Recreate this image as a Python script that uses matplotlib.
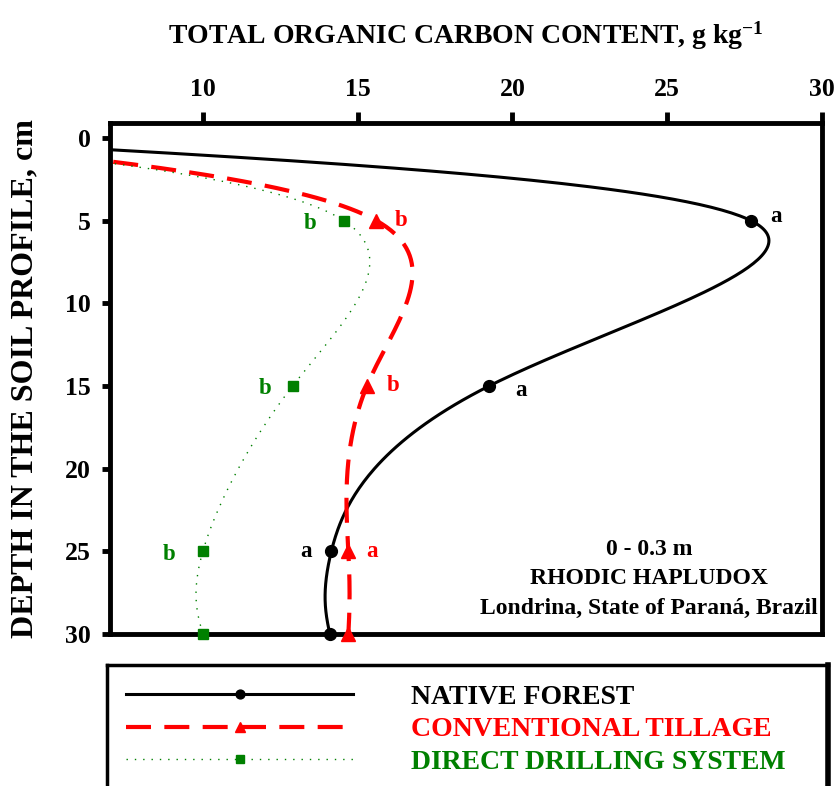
import matplotlib
matplotlib.use("Agg")
import matplotlib.pyplot as plt
from matplotlib.lines import Line2D
import numpy as np

plt.rcParams["font.family"] = ["Liberation Serif", "DejaVu Serif"]
plt.rcParams["font.weight"] = "bold"
plt.rcParams["mathtext.fontset"] = "custom"
plt.rcParams["mathtext.rm"] = "Liberation Serif:bold"
plt.rcParams["mathtext.bf"] = "Liberation Serif:bold"
plt.rcParams["mathtext.default"] = "rm"

# depth (cm); the 0 cm point anchors the smoothed curves at the surface
depth = [0, 5, 15, 25, 30]
native_forest = [0, 27.7, 19.25, 14.15, 14.1]
conv_tillage = [0, 15.6, 15.3, 14.7, 14.7]
direct_drilling = [0, 14.55, 12.9, 10.0, 10.0]

native_letters = ["a", "a", "a", ""]
conv_letters = ["b", "b", "a", ""]
direct_letters = ["b", "b", "b", ""]

series_names = ["NATIVE FOREST", "CONVENTIONAL TILLAGE", "DIRECT DRILLING SYSTEM"]
x_ticks = [10, 15, 20, 25, 30]
y_ticks = [0, 5, 10, 15, 20, 25, 30]

BLACK = "#000000"
RED = "#FF0000"
GREEN = "#008000"


def _natural(v):
    """Second derivatives of a natural cubic spline on a uniform parameter."""
    v = np.asarray(v, float)
    n = len(v)
    A = np.zeros((n, n))
    b = np.zeros(n)
    A[0, 0] = A[-1, -1] = 1
    for i in range(1, n - 1):
        A[i, i - 1], A[i, i], A[i, i + 1] = 1, 4, 1
        b[i] = 6 * (v[i + 1] - 2 * v[i] + v[i - 1])
    return np.linalg.solve(A, b)


def smooth(xs, ys, n=80):
    """Parametric natural cubic spline through the points (graph-package style)."""
    out_x, out_y = [], []
    mx, my = _natural(xs), _natural(ys)
    s = np.linspace(0, 1, n)
    for i in range(len(xs) - 1):
        a, c = 1 - s, s
        fx = a * xs[i] + c * xs[i + 1] + ((a ** 3 - a) * mx[i] + (c ** 3 - c) * mx[i + 1]) / 6
        fy = a * ys[i] + c * ys[i + 1] + ((a ** 3 - a) * my[i] + (c ** 3 - c) * my[i + 1]) / 6
        k = 0 if i == 0 else 1
        out_x.append(fx[k:])
        out_y.append(fy[k:])
    return np.concatenate(out_x), np.concatenate(out_y)


fig = plt.figure(figsize=(8.39, 7.86), dpi=100)
ax = fig.add_axes([110 / 839, 1 - 634 / 786, 712 / 839, 511 / 786])

styles = [
    dict(color=BLACK, lw=2.2, ls="-", marker="o", ms=8.5),
    dict(color=RED, lw=3.0, ls=(0, (6, 3.2)), marker="^", ms=9.5),
    dict(color=GREEN, lw=1.0, ls=(0, (1, 5)), marker="s", ms=7.5),
]
data = [native_forest, conv_tillage, direct_drilling]
letters = [native_letters, conv_letters, direct_letters]
# letter offsets in points (layout only)
offsets = [
    [(18, 3), (23, -3), (-18, 0)],
    [(18, 0), (19, 0), (17, 0)],
    [(-24, -2), (-20, -2), (-24, -2)],
]

handles = []
for vals, st, labs, offs in zip(data, styles, letters, offsets):
    sx, sy = smooth(vals, depth)
    ax.plot(sx, sy, color=st["color"], lw=st["lw"], ls=st["ls"],
            solid_capstyle="butt", dash_capstyle="butt")
    ax.plot(vals[1:], depth[1:], ls="none", marker=st["marker"],
            ms=st["ms"], color=st["color"], clip_on=False, zorder=5)
    for xv, yv, lab, (dx, dy) in zip(vals[1:], depth[1:], labs, offs):
        if lab:
            ax.annotate(lab, (xv, yv), xytext=(dx, dy),
                        textcoords="offset points", ha="center", va="center",
                        fontsize=16.5, color=st["color"], fontweight="bold")
    handles.append(Line2D([], [], color=st["color"], lw=st["lw"], ls=st["ls"],
                          marker=st["marker"], ms=st["ms"] * 0.75))

ax.set_xlim(7, 30)
ax.set_ylim(30, -0.9)
ax.xaxis.tick_top()
ax.set_xticks(x_ticks)
ax.set_yticks(y_ticks)
ax.tick_params(axis="x", direction="out", length=8, width=3.5, pad=8,
               labelsize=18.5)
ax.tick_params(axis="y", direction="out", length=6, width=3.5, pad=8,
               labelsize=18.5)
for sp in ax.spines.values():
    sp.set_linewidth(3.5)

ax.text((649 - 110) / 712, (634 - 579) / 511,
        "0 - 0.3 m\nRHODIC HAPLUDOX\nLondrina, State of Paraná, Brazil",
        transform=ax.transAxes, ha="center", va="center", fontsize=17,
        fontweight="bold", linespacing=1.55)

fig.text(466 / 839, 1 - 36 / 786,
         r"TOTAL ORGANIC CARBON CONTENT, g kg$^{-1}$",
         ha="center", va="center", fontsize=20, fontweight="bold")
fig.text(25 / 839, 1 - 379 / 786, "DEPTH IN THE SOIL PROFILE, cm",
         rotation=90, ha="center", va="center", fontsize=23, fontweight="bold")

# legend box
lax = fig.add_axes([107 / 839, 1 - 800 / 786, 721 / 839, 135 / 786])
lax.set_xticks([])
lax.set_yticks([])
for sp in lax.spines.values():
    sp.set_linewidth(2.5)
lax.spines["right"].set_linewidth(4)
leg = lax.legend(handles, series_names, loc="upper left",
                 bbox_to_anchor=(0.0, 1.0), frameon=False, fontsize=20,
                 handlelength=8.17, handletextpad=2.09, labelspacing=0.25,
                 numpoints=1, borderaxespad=0.3)
for txt, st in zip(leg.get_texts(), styles):
    txt.set_color(st["color"])

fig.savefig("out.png", dpi=100)
